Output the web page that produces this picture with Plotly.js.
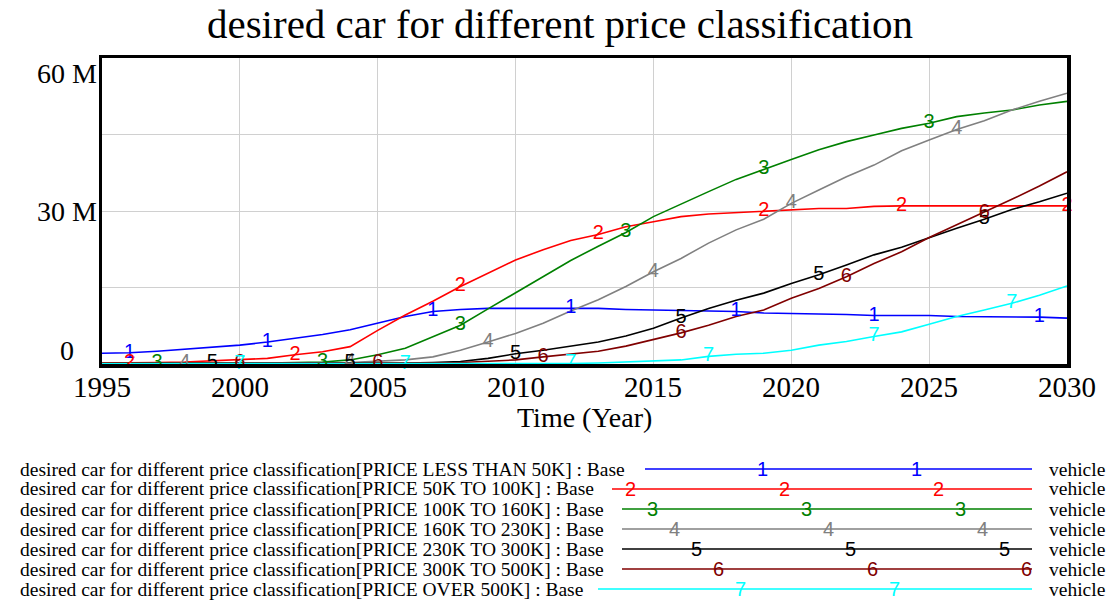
<!DOCTYPE html>
<html>
<head>
<meta charset="utf-8">
<script src="https://cdn.plot.ly/plotly-3.0.1.min.js"></script>
<style>
  html, body { margin: 0; padding: 0; background: #fff; }
  #chart { width: 1109px; height: 601px; }
</style>
</head>
<body>
<div id="chart"></div>
<script>
// ---------- data (values in millions of vehicles) ----------
var years = [1995,1996,1997,1998,1999,2000,2001,2002,2003,2004,2005,2006,2007,2008,2009,2010,2011,2012,2013,2014,2015,2016,2017,2018,2019,2020,2021,2022,2023,2024,2025,2026,2027,2028,2029,2030];

var priceLess50K = [2.1,2.2,2.5,2.9,3.4,3.7,4.3,5.0,5.8,6.7,8.0,9.3,10.3,10.7,10.9,10.9,10.9,10.9,10.9,10.7,10.6,10.4,10.3,10.3,10.0,9.9,9.9,9.7,9.5,9.5,9.5,9.3,9.3,9.3,9.2,9.0];
var price50To100K = [0.2,0.2,0.3,0.4,0.6,0.8,1.1,1.8,2.4,3.4,6.6,9.6,12.3,15.2,17.8,20.4,22.4,24.2,25.4,26.9,27.9,28.9,29.4,29.7,30.0,30.3,30.5,30.5,30.9,31.0,31.0,31.0,31.0,31.0,31.0,31.0];
var price100To160K = [0.1,0.1,0.1,0.1,0.2,0.2,0.2,0.3,0.4,0.8,1.8,3.1,5.4,7.6,10.8,14.0,17.2,20.3,23.1,25.8,28.9,31.4,33.8,36.2,38.2,40.1,42.0,43.6,44.9,46.2,47.2,48.5,49.2,49.8,50.8,51.5];
var price160To230K = [0.1,0.1,0.1,0.1,0.1,0.1,0.1,0.2,0.2,0.3,0.5,0.8,1.4,2.7,4.3,6.0,8.0,10.4,12.6,15.2,18.1,20.7,23.7,26.3,28.4,31.5,34.1,36.7,39.0,41.8,43.9,46.0,47.7,49.8,51.5,53.1];
var price230To300K = [0.1,0.1,0.1,0.1,0.1,0.1,0.1,0.1,0.1,0.1,0.2,0.2,0.3,0.5,1.1,2.0,2.7,3.5,4.3,5.5,7.0,9.0,10.9,12.5,13.9,15.8,17.5,19.4,21.4,22.9,24.8,26.6,28.4,30.3,31.8,33.5];
var price300To500K = [0.1,0.1,0.1,0.1,0.1,0.1,0.1,0.1,0.1,0.1,0.1,0.2,0.2,0.3,0.5,0.8,1.4,2.0,2.5,3.5,4.8,6.1,7.6,9.3,10.6,12.9,14.8,17.1,19.7,22.0,24.8,27.3,29.7,32.3,34.9,37.7];
var priceOver500K = [0.05,0.05,0.05,0.05,0.05,0.05,0.05,0.05,0.05,0.05,0.05,0.05,0.05,0.1,0.1,0.1,0.1,0.1,0.2,0.4,0.6,0.8,1.5,1.9,2.1,2.7,3.7,4.4,5.4,6.3,7.8,9.3,10.6,11.9,13.5,15.3];

var seriesValues = [priceLess50K, price50To100K, price100To160K, price160To230K, price230To300K, price300To500K, priceOver500K];
var seriesIds = ["1","2","3","4","5","6","7"];
var seriesNames = [
  "desired car for different price classification[PRICE LESS THAN 50K] : Base",
  "desired car for different price classification[PRICE 50K TO 100K] : Base",
  "desired car for different price classification[PRICE 100K TO 160K] : Base",
  "desired car for different price classification[PRICE 160K TO 230K] : Base",
  "desired car for different price classification[PRICE 230K TO 300K] : Base",
  "desired car for different price classification[PRICE 300K TO 500K] : Base",
  "desired car for different price classification[PRICE OVER 500K] : Base"
];
var unitLabel = "vehicle";
// years at which each series is tagged with its number
var labelYears = [
  [1996,2001,2007,2012,2018,2023,2029],
  [1996,2002,2008,2013,2019,2024,2030],
  [1997,2003,2008,2014,2019,2025],
  [1998,2004,2009,2015,2020,2026],
  [1999,2004,2010,2016,2021,2027],
  [2000,2005,2011,2016,2022,2027],
  [2000,2006,2012,2017,2023,2028]
];
var xTickVals = [1995,2000,2005,2010,2015,2020,2025,2030];
var yTickVals = [0, 30, 60];
var yTickText = ["0", "30 M", "60 M"];
var chartTitle = "desired car for different price classification";
var xTitle = "Time (Year)";

// ---------- styling ----------
var colors = ["#0000ff","#ff0000","#008000","#808080","#000000","#800000","#00ffff"];
var SERIF = "'Liberation Serif', 'Times New Roman', serif";
var SANS = "'Liberation Sans', Arial, sans-serif";

var W = 1109, H = 601;
var mL = 102, mR = 42, mT = 58, mB = 237;
var plotW = W - mL - mR, plotH = H - mT - mB;
function px2paperX(px) { return (px - mL) / plotW; }
function px2paperY(py) { return (H - mB - py) / plotH; }

var traces = [];
seriesValues.forEach(function (vals, i) {
  traces.push({
    type: "scatter", mode: "lines", x: years, y: vals,
    line: { color: colors[i], width: 1.6 },
    hoverinfo: "skip", showlegend: false
  });
});
seriesValues.forEach(function (vals, i) {
  var lx = labelYears[i];
  var ly = lx.map(function (yr) { return vals[years.indexOf(yr)]; });
  traces.push({
    type: "scatter", mode: "text", x: lx, y: ly,
    text: lx.map(function () { return seriesIds[i]; }),
    textposition: "middle center",
    textfont: { family: SANS, size: 20, color: colors[i] },
    cliponaxis: false, hoverinfo: "skip", showlegend: false
  });
});

var annotations = [];
var shapes = [];

// y-axis labels (Vensim style, first/last pulled inside)
var yShifts = [14, 0, -15];
yTickVals.forEach(function (v, k) {
  annotations.push({
    xref: "paper", yref: "y", x: px2paperX(67), y: v, yshift: yShifts[k],
    xanchor: "center", yanchor: "middle", showarrow: false,
    text: yTickText[k], font: { family: SERIF, size: 28, color: "#000" }
  });
});

// x-axis tick labels
xTickVals.forEach(function (v) {
  annotations.push({
    xref: "x", yref: "paper", x: v, y: px2paperY(387),
    xanchor: "center", yanchor: "middle", showarrow: false,
    text: String(v), font: { family: SERIF, size: 29, color: "#000" }
  });
});
// x-axis title
annotations.push({
  xref: "paper", yref: "paper", x: 0.5, y: px2paperY(417),
  xanchor: "center", yanchor: "middle", showarrow: false,
  text: xTitle, font: { family: SERIF, size: 28, color: "#000" }
});

// custom legend block
var rowY = [469, 489, 509, 529, 549, 569, 589];
var lineStart = [645, 612, 622, 622, 622, 622, 598];
var lineEnd = 1032;
seriesNames.forEach(function (nm, i) {
  var yp = px2paperY(rowY[i]);
  annotations.push({
    xref: "paper", yref: "paper", x: px2paperX(18), y: yp,
    xanchor: "left", yanchor: "middle", showarrow: false, align: "left",
    text: nm, font: { family: SERIF, size: 19.5, color: "#000" }
  });
  annotations.push({
    xref: "paper", yref: "paper", x: px2paperX(1047), y: yp,
    xanchor: "left", yanchor: "middle", showarrow: false, align: "left",
    text: unitLabel, font: { family: SERIF, size: 19.5, color: "#000" }
  });
  shapes.push({
    type: "line", xref: "paper", yref: "paper",
    x0: px2paperX(lineStart[i]), x1: px2paperX(lineEnd), y0: yp, y1: yp,
    line: { color: colors[i], width: 1.5 }
  });
  for (var j = 0; j < 4; j++) {
    var lxp = 608 + 22 * i + 154 * j;
    if (lxp < lineStart[i] + 4 || lxp > lineEnd + 2) continue;
    annotations.push({
      xref: "paper", yref: "paper", x: px2paperX(lxp), y: yp,
      xanchor: "center", yanchor: "middle", showarrow: false,
      text: seriesIds[i], font: { family: SANS, size: 20, color: colors[i] }
    });
  }
});

var layout = {
  width: W, height: H,
  paper_bgcolor: "#fff", plot_bgcolor: "#fff",
  margin: { l: mL, r: mR, t: mT, b: mB, pad: 0 },
  showlegend: false,
  title: {
    text: chartTitle, font: { family: SERIF, size: 41, color: "#000" },
    xref: "container", x: 0.505, xanchor: "center",
    yref: "container", y: 0.984, yanchor: "top"
  },
  xaxis: {
    range: [1995, 2030], tickvals: xTickVals,
    showticklabels: false,
    showgrid: true, gridcolor: "#d0d0d0", gridwidth: 1,
    zeroline: false, showline: true, mirror: true, linecolor: "#000", linewidth: 3.5,
    ticks: ""
  },
  yaxis: {
    range: [0, 60], tickvals: [0, 15, 30, 45, 60],
    showticklabels: false, showgrid: true, gridcolor: "#d0d0d0", gridwidth: 1,
    zeroline: false, showline: true, mirror: true, linecolor: "#000", linewidth: 3.5,
    ticks: ""
  },
  annotations: annotations,
  shapes: shapes
};

Plotly.newPlot("chart", traces, layout, { staticPlot: true, displayModeBar: false });
</script>
</body>
</html>
